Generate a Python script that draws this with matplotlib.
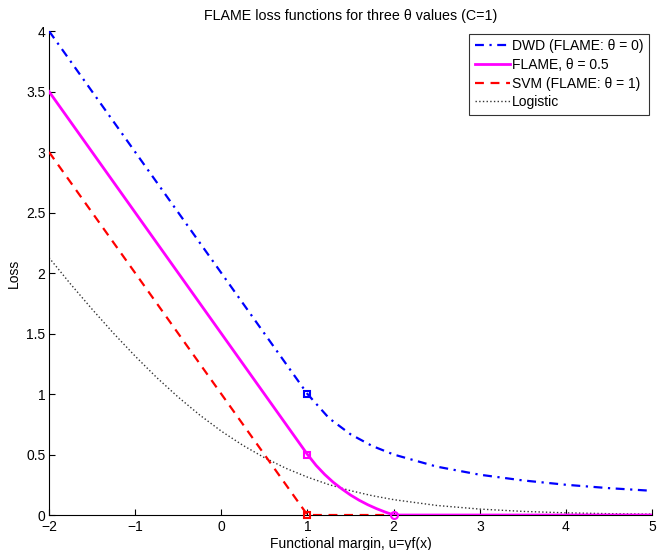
import matplotlib
matplotlib.use("Agg")
import matplotlib.pyplot as plt

plt.rcParams['font.family'] = ['Liberation Sans', 'DejaVu Sans']

# DWD (FLAME theta=0)
dwd_u = [-2, -1, 0, 1, 1.25, 1.5, 1.75, 2, 2.5, 3, 3.5, 4, 4.5, 5]
dwd_v = [4, 3, 2, 1, 0.8, 0.667, 0.571, 0.5, 0.4, 0.333, 0.286, 0.25, 0.222, 0.2]

# FLAME theta=0.5
flame_u = [-2, 1, 1.1, 1.2, 1.3, 1.4, 1.5, 1.6, 1.7, 1.8, 1.9, 2, 5]
flame_v = [3.5, 0.5, 0.41, 0.335, 0.27, 0.215, 0.165, 0.122, 0.085, 0.053, 0.025, 0, 0]

# SVM (FLAME theta=1)
svm_u = [-2, 1, 2]
svm_v = [3, 0, 0]

# Logistic
log_u = [-2, -1.75, -1.5, -1.25, -1, -0.75, -0.5, -0.25, 0, 0.25, 0.5, 0.75, 1,
         1.25, 1.5, 1.75, 2, 2.5, 3, 3.5, 4, 4.5, 5]
log_v = [2.127, 1.909, 1.701, 1.501, 1.313, 1.136, 0.974, 0.826, 0.693, 0.576, 0.474,
         0.386, 0.313, 0.251, 0.201, 0.160, 0.127, 0.079, 0.049, 0.030, 0.018, 0.011, 0.007]

# special points
dwd_mark = (1, 1)
flame_mark_sq = (1, 0.5)
flame_mark_ci = (2, 0)
svm_mark = (1, 0)

xticks = [-2, -1, 0, 1, 2, 3, 4, 5]
yticks = [0, 0.5, 1, 1.5, 2, 2.5, 3, 3.5, 4]
yticklabels = ['0', '0.5', '1', '1.5', '2', '2.5', '3', '3.5', '4']

fig = plt.figure(figsize=(6.57, 5.5), dpi=100)
ax = fig.add_axes([0.0746, 0.0636, 0.918, 0.88])

ax.plot(log_u, log_v, color='#333333', linestyle=':', linewidth=1.0, label='Logistic', zorder=2)
ax.plot(svm_u, svm_v, color='#ff0000', linestyle='--', linewidth=1.6, dashes=(4, 3),
        label='SVM (FLAME: \u03b8 = 1)', zorder=3)
ax.plot(flame_u, flame_v, color='#ff00ff', linestyle='-', linewidth=2.0,
        label='FLAME, \u03b8 = 0.5', zorder=4)
ax.plot(dwd_u, dwd_v, color='#0000ff', linestyle='-.', linewidth=1.6, dashes=(4, 2.5, 1, 2.5),
        label='DWD (FLAME: \u03b8 = 0)', zorder=3)

ax.plot([dwd_mark[0]], [dwd_mark[1]], marker='s', markersize=4.5, mfc='none', mec='#0000ff', mew=1.5, zorder=5)
ax.plot([flame_mark_sq[0]], [flame_mark_sq[1]], marker='s', markersize=4.5, mfc='none', mec='#ff00ff', mew=1.5, zorder=5)
ax.plot([flame_mark_ci[0]], [flame_mark_ci[1]], marker='o', markersize=5, mfc='none', mec='#ff00ff', mew=1.5, zorder=5, clip_on=False)
ax.plot([svm_mark[0]], [svm_mark[1]], marker='s', markersize=4.5, mfc='none', mec='#ff0000', mew=1.5, zorder=5, clip_on=False)

ax.set_xlim(-2, 5)
ax.set_ylim(0, 4)
ax.set_xticks(xticks)
ax.set_yticks(yticks)
ax.set_yticklabels(yticklabels)
ax.tick_params(direction='in', labelsize=10, length=4, top=False, right=False)
ax.tick_params(axis='x', pad=3.5)
ax.tick_params(axis='y', pad=2.5)
ax.spines['top'].set_visible(False)
ax.spines['right'].set_visible(False)

ax.set_xlabel('Functional margin, u=yf(x)', fontsize=10, labelpad=2)
ax.set_ylabel('Loss', fontsize=10, labelpad=4)
ax.set_title('FLAME loss functions for three \u03b8 values (C=1)', fontsize=10.3, pad=8)

handles, labels = ax.get_legend_handles_labels()
order = [3, 2, 1, 0]
leg = ax.legend([handles[i] for i in order], [labels[i] for i in order], loc='upper right',
                fontsize=10, frameon=True, fancybox=False, edgecolor='black',
                handlelength=2.5, handletextpad=0.2, borderaxespad=0.2, labelspacing=0.33,
                borderpad=0.4)
leg.get_frame().set_linewidth(0.8)

fig.savefig('out.png', dpi=100)
